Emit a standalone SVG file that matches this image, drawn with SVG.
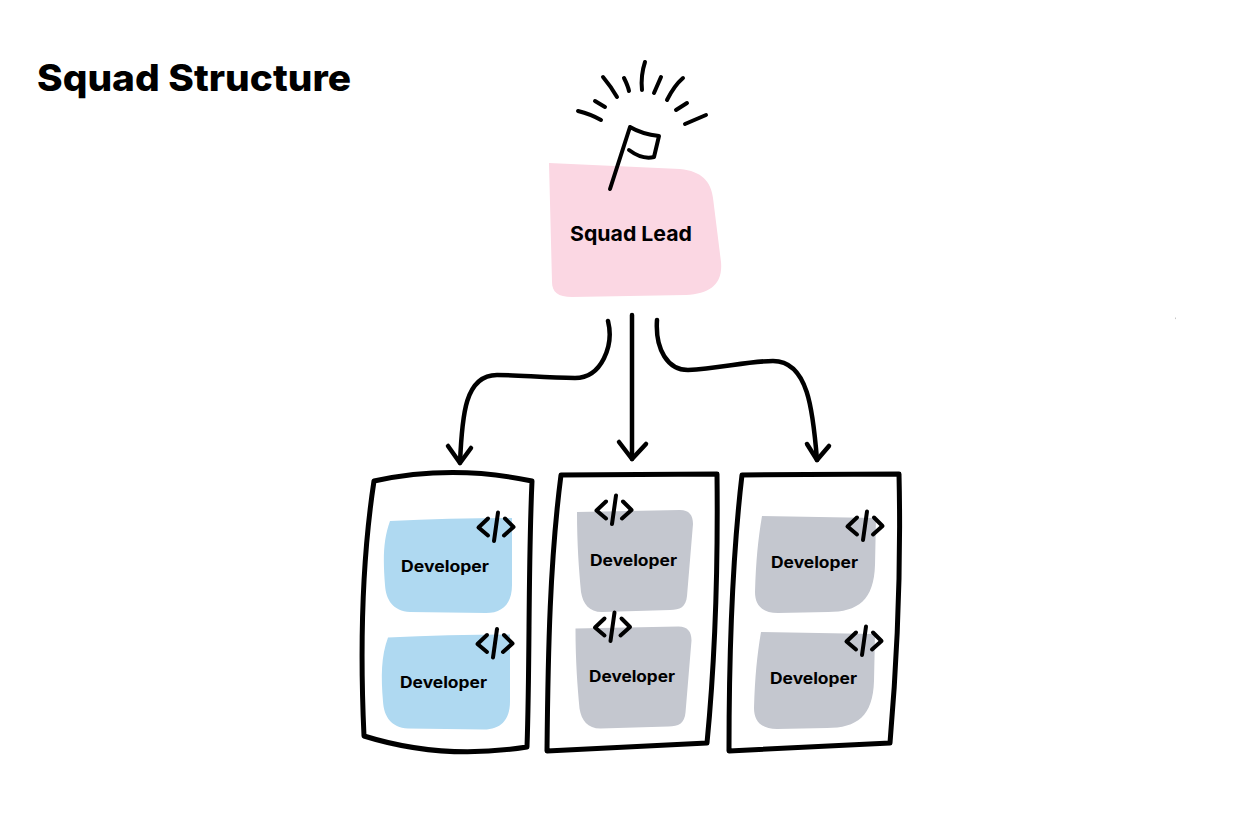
<svg xmlns="http://www.w3.org/2000/svg" xmlns:xlink="http://www.w3.org/1999/xlink" width="1255" height="817" viewBox="0 0 1255 817">
<style>
.ink{fill:none;stroke:#000;stroke-linecap:round;stroke-linejoin:round}
.arrow{stroke-width:4.500}
.panel{fill:#fff;stroke:#000;stroke-width:5;stroke-linejoin:round}
.t{font-family:"Inter","Liberation Sans",sans-serif;font-weight:700;fill:#000}
.dev{font-size:15.500px}
.pink{fill:#fbd7e3}.blue{fill:#afd9f1}.gray{fill:#c4c7cf}
</style>
<defs>
<g id="code" class="ink" stroke-width="4">
<path d="M-8,-8.500L-17.500,0.500L-8,8.500"/>
<path d="M2,-14.500L-2,14"/>
<path d="M9,-8.500L17.500,0L8,8.500"/>
</g>
<path id="blueA" d="M390,521C430,519 470,518 512,518L512,585C512,604 502,613 486,613L410,612C393,611 386,600 385,585C383,560 383,540 390,521Z"/>
<path id="grayA" d="M577,512L680,510C689,510 693,515 693,524L687,596C686,607 680,610 670,610L602,612C589,612 583,604 581,592C579,570 577,545 577,512Z"/>
<path id="grayB" d="M762,516L876,518L875,565C874,600 858,612 828,612L778,613C762,613 755,605 755,592C756,560 758,540 762,516Z"/>
</defs>
<rect width="1255" height="817" fill="#fff"/>
<rect x="1175" y="317.500" width="0.800" height="1.600" fill="#bbb"/>
<text class="t" x="37" y="91" font-size="37" font-weight="800" style="font-weight:800" textLength="314" lengthAdjust="spacingAndGlyphs">Squad Structure</text>

<g id="squad-lead">
<path class="pink" d="M549,163L680,169C702,171 711,182 713,198L721,262C723,284 710,294 686,295L572,297C558,297 552,292 552,282Z"/>
<g class="ink" stroke-width="4">
<path d="M610,189L630,127C640,133 650,135 659,136L654,157C646,159 637,156 629,150"/>
<path d="M578,111C586,113 594,116 601,120"/>
<path d="M595,101L605,107"/>
<path d="M603,77C608,83 613,90 617,97"/>
<path d="M624,78C626,82 628,86 629,91"/>
<path d="M645,62C642,71 641,80 642,90"/>
<path d="M661,77L654,93"/>
<path d="M683,78C676,84 671,92 667,100"/>
<path d="M687,103L676,110"/>
<path d="M706,115L685,124"/>
</g>
<text class="t" x="570" y="241" font-size="20.500" textLength="122" lengthAdjust="spacingAndGlyphs">Squad Lead</text>
</g>

<g id="connectors">
<g class="ink arrow">
<path d="M608,321C614,345 602,378 575,378C545,378 520,375 497,375C465,375 462,415 460,463"/>
<path d="M448,446L460,463L471,448"/>
<path d="M632,315L632,459"/>
<path d="M619,442L632,459L646,444"/>
<path d="M657,320C655,350 668,370 688,370C720,368 750,361 773,361C808,361 813,410 817,460"/>
<path d="M807,444L817,460L829,446"/>
</g>
</g>

<g id="team-1">
<path class="panel" d="M374,481C425,470 480,470 532,481C528,570 530,660 527,747C470,756 415,752 364,736C360,650 362,560 374,481Z"/>
<g id="developer-1">
<use xlink:href="#blueA" href="#blueA" class="blue"/>
<use xlink:href="#code" href="#code" x="496" y="527"/>
<text class="t dev" x="401" y="572" textLength="88" lengthAdjust="spacingAndGlyphs">Developer</text>
</g>
<g id="developer-2">
<use xlink:href="#blueA" href="#blueA" class="blue" x="-2" y="116.500"/>
<use xlink:href="#code" href="#code" x="495" y="643.500"/>
<text class="t dev" x="400" y="688" textLength="87" lengthAdjust="spacingAndGlyphs">Developer</text>
</g>
</g>

<g id="team-2">
<path class="panel" d="M561,475L717,474C718,560 716,650 707,743L547,751C548,650 550,560 561,475Z"/>
<g id="developer-3">
<use xlink:href="#grayA" href="#grayA" class="gray"/>
<use xlink:href="#code" href="#code" x="614" y="510"/>
<text class="t dev" x="590" y="566" textLength="87" lengthAdjust="spacingAndGlyphs">Developer</text>
</g>
<g id="developer-4">
<use xlink:href="#grayA" href="#grayA" class="gray" x="-1.500" y="116.500"/>
<use xlink:href="#code" href="#code" x="612.500" y="627"/>
<text class="t dev" x="589" y="682" textLength="86" lengthAdjust="spacingAndGlyphs">Developer</text>
</g>
</g>

<g id="team-3">
<path class="panel" d="M742,475L899,474C901,560 898,650 890,743L729,751C729,650 732,560 742,475Z"/>
<g id="developer-5">
<use xlink:href="#grayB" href="#grayB" class="gray"/>
<use xlink:href="#code" href="#code" x="865" y="526"/>
<text class="t dev" x="771" y="568" textLength="87" lengthAdjust="spacingAndGlyphs">Developer</text>
</g>
<g id="developer-6">
<use xlink:href="#grayB" href="#grayB" class="gray" x="-1" y="116"/>
<use xlink:href="#code" href="#code" x="864" y="641"/>
<text class="t dev" x="770" y="684" textLength="87" lengthAdjust="spacingAndGlyphs">Developer</text>
</g>
</g>
</svg>
